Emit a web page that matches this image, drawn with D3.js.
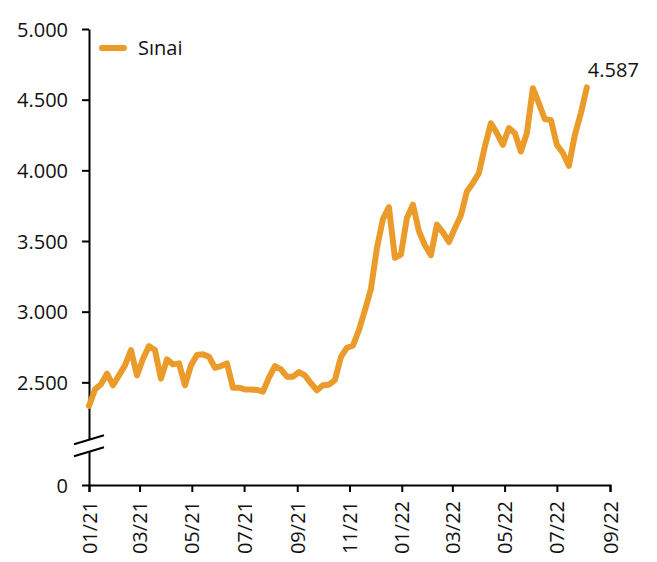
<!DOCTYPE html>
<html>
<head>
<meta charset="utf-8">
<script src="https://cdn.jsdelivr.net/npm/d3@7"></script>
<style>
  body { margin: 0; background: #fff; }
  text { font-family: "Open Sans", sans-serif; fill: #111; }
</style>
</head>
<body>
<div id="chart"></div>
<script>
// weekly series, starting 01.01.2021
const firstWeek = new Date(2021, 0, 1);
const sinai = [
  2333, 2450, 2486, 2561, 2479, 2549, 2620, 2728, 2549, 2667,
  2756, 2728, 2526, 2662, 2627, 2634, 2479, 2620, 2693, 2698,
  2681, 2603, 2615, 2634, 2462, 2462, 2450, 2450, 2446, 2434,
  2533, 2615, 2592, 2540, 2540, 2573, 2549, 2493, 2444, 2479,
  2483, 2516, 2680, 2745, 2760, 2870, 3010, 3160, 3450, 3655,
  3740, 3381, 3404, 3663, 3757, 3570, 3470, 3400, 3616, 3561,
  3493, 3590, 3680, 3851, 3910, 3980, 4169, 4333, 4263, 4181,
  4299, 4263, 4133, 4263, 4581, 4474, 4361, 4357, 4181, 4122,
  4032, 4251, 4404, 4587
];
const lastLabel = "4.587";
const yTicks = [0, 2500, 3000, 3500, 4000, 4500, 5000];
const seriesName = "Sınai";

const width = 657, height = 562;
const margin = {top: 29, right: 47, bottom: 77, left: 89};

const dates = sinai.map((d, i) => d3.timeDay.offset(firstWeek, 7 * i));

const svg = d3.select('#chart').append('svg')
  .attr('width', width)
  .attr('height', height);

const x = d3.scaleTime()
  .domain([new Date(2021, 0, 1), new Date(2022, 8, 1)])
  .range([margin.left, width - margin.right]);

// broken axis: 0..2000 squeezed at the bottom
const y = d3.scaleLinear()
  .domain([0, 2000, 5000])
  .range([height - margin.bottom, 453, margin.top]);

const loc = d3.formatLocale({decimal: ",", thousands: ".", grouping: [3], currency: ["", ""]});
const fmt = loc.format(",");

const yAxis = svg.append('g')
  .attr('transform', `translate(${margin.left},0)`)
  .call(d3.axisLeft(y).tickValues(yTicks).tickFormat(fmt).tickSize(7).tickSizeOuter(0));
yAxis.selectAll('path, line').attr('stroke', '#000').attr('stroke-width', 2);
yAxis.selectAll('text').attr('font-size', 20).attr('x', -21).attr('dy', '0.35em')
  .style('font-family', '"Open Sans", sans-serif');

const xAxis = svg.append('g')
  .attr('transform', `translate(0,${y(0)})`)
  .call(d3.axisBottom(x).ticks(d3.timeMonth.every(2)).tickFormat(d3.timeFormat('%m/%y')).tickSize(7).tickSizeOuter(7));
xAxis.selectAll('path, line').attr('stroke', '#000').attr('stroke-width', 2);
xAxis.selectAll('text')
  .attr('font-size', 20)
  .attr('transform', 'rotate(-90)')
  .attr('text-anchor', 'end')
  .attr('x', -16)
  .attr('y', 0)
  .attr('dy', '0.35em')
  .style('font-family', '"Open Sans", sans-serif');

// axis break marks
const yb = y(2055);
const bx0 = margin.left - 15, bx1 = margin.left + 15;
svg.append('path')
  .attr('d', `M${bx0},${yb - 1} L${bx1},${yb - 10} L${bx1},${yb + 2} L${bx0},${yb + 11} Z`)
  .attr('fill', '#fff');
[[-1, -10], [11, 2]].forEach(o => {
  svg.append('line')
    .attr('x1', bx0).attr('y1', yb + o[0])
    .attr('x2', bx1).attr('y2', yb + o[1])
    .attr('stroke', '#000').attr('stroke-width', 2);
});

const line = d3.line()
  .x((d, i) => x(dates[i]))
  .y(d => y(d));

svg.append('path')
  .datum(sinai)
  .attr('d', line)
  .attr('fill', 'none')
  .attr('stroke', '#EA9B29')
  .attr('stroke-width', 6)
  .attr('stroke-linejoin', 'round')
  .attr('stroke-linecap', 'round');

svg.append('text')
  .attr('x', x(dates[dates.length - 1]) + 1)
  .attr('y', y(sinai[sinai.length - 1]) - 10)
  .attr('font-size', 20)
  .text(lastLabel);

// legend
const lg = svg.append('g').attr('transform', 'translate(102,48)');
lg.append('line')
  .attr('x1', 0).attr('x2', 22)
  .attr('stroke', '#EA9B29').attr('stroke-width', 6).attr('stroke-linecap', 'round');
lg.append('text')
  .attr('x', 36).attr('y', 0).attr('dy', '0.35em')
  .attr('font-size', 20)
  .text(seriesName);
</script>
</body>
</html>
